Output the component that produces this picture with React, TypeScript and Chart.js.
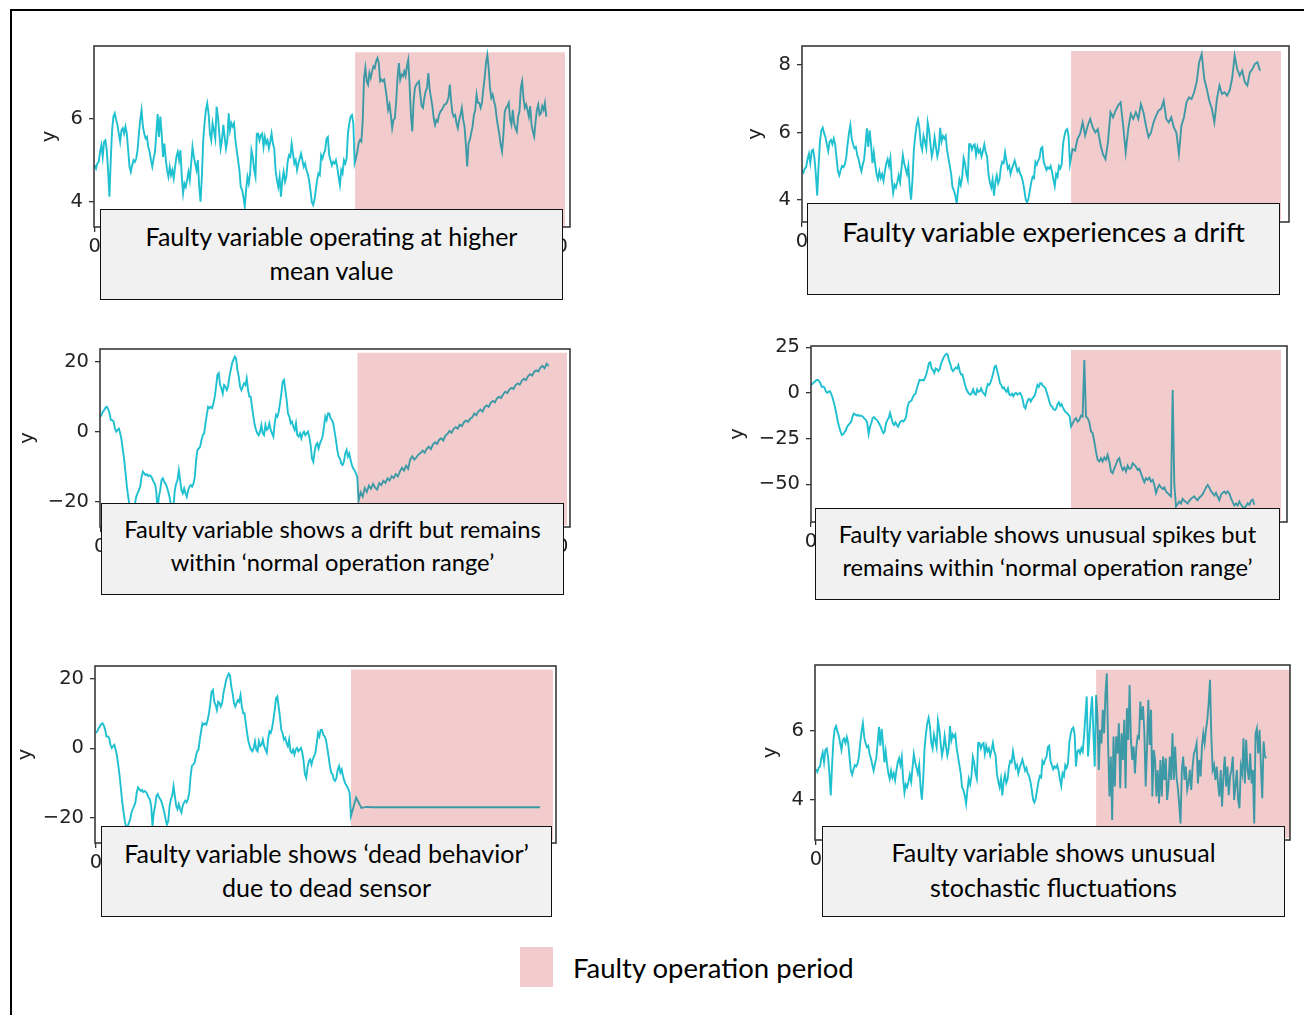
import React, { useEffect, useRef } from "react";
import { Chart, registerables } from "chart.js";

Chart.register(...registerables);

// ---------------- data ----------------
// shared normal-operation signal of panels "higher mean", "drift", "stochastic"
const baseNormal = [
  4.89, 4.81, 4.93, 4.97, 5.21, 5.37, 5.09, 5.45, 5.49, 5.25,
  4.77, 4.13, 5.01, 5.73, 6.06, 6.14, 5.98, 5.86, 5.65, 5.45,
  5.73, 5.78, 5.65, 5.82, 5.65, 5.25, 4.85, 4.73, 4.89, 5.01,
  4.97, 5.05, 5.25, 5.65, 5.98, 6.22, 5.82, 5.65, 5.53, 5.57,
  5.33, 5.21, 5.01, 4.85, 5.05, 5.21, 5.65, 6.12, 5.57, 6.06,
  5.65, 5.09, 5.41, 5.05, 4.77, 4.61, 4.85, 4.65, 4.77, 4.57,
  4.85, 5.09, 5.21, 5.01, 5.25, 4.61, 4.21, 4.45, 4.37, 4.53,
  4.73, 4.53, 4.93, 5.33, 5.09, 4.93, 4.77, 5.01, 4.37, 4.01,
  4.61, 5.49, 5.90, 6.22, 6.38, 6.14, 5.65, 5.49, 5.90, 5.73,
  5.53, 6.30, 6.06, 5.65, 5.29, 5.49, 5.86, 5.57, 5.29, 5.49,
  6.14, 5.73, 5.90, 5.82, 5.90, 5.49, 5.25, 5.01, 4.77, 4.37,
  4.29, 4.13, 3.89, 4.29, 4.61, 4.45, 4.69, 5.25, 5.09, 4.77,
  4.61, 5.65, 5.65, 5.49, 5.61, 5.65, 5.33, 5.57, 5.41, 5.49,
  5.29, 5.45, 5.65, 5.41, 5.29, 4.77, 4.53, 4.37, 4.61, 4.13,
  4.53, 4.73, 4.49, 4.61, 4.97, 5.13, 5.09, 5.41, 5.17, 4.93,
  5.01, 4.77, 4.93, 5.05, 5.17, 5.01, 4.85, 4.93, 4.77, 4.69,
  4.53, 4.29, 4.01, 3.93, 4.05, 4.29, 4.53, 4.69, 4.65, 5.13,
  5.05, 5.17, 5.25, 5.53, 5.57, 5.13, 5.01, 4.89, 4.97, 4.93,
  5.01, 4.85, 4.61, 4.41, 4.77, 4.69, 5.01, 4.93, 5.05, 5.65,
  5.90, 6.06, 6.10, 5.90,
];

const higherMeanFault = [
  4.94, 5.06, 5.22, 5.42, 5.50, 5.46, 5.94, 6.99, 7.24, 6.91,
  6.83, 7.11, 6.99, 7.15, 7.27, 7.23, 7.39, 7.47, 7.35, 6.91,
  6.95, 6.91, 6.95, 6.75, 6.51, 6.22, 6.35, 6.10, 5.78, 5.98,
  6.02, 6.43, 6.99, 7.35, 6.95, 7.07, 7.03, 7.15, 7.03, 7.27,
  7.43, 6.83, 6.10, 5.70, 6.43, 6.75, 6.83, 6.87, 6.91, 6.59,
  6.31, 6.27, 6.51, 6.67, 6.75, 7.11, 6.71, 6.51, 6.31, 6.02,
  5.86, 5.98, 5.94, 6.10, 6.18, 6.22, 6.28, 6.35, 6.36, 6.41,
  6.51, 6.83, 6.43, 6.14, 6.06, 6.10, 5.90, 5.78, 5.98, 6.10,
  6.27, 5.98, 5.82, 5.38, 4.86, 5.42, 5.50, 5.66, 5.82, 6.10,
  6.22, 6.59, 6.39, 6.39, 6.27, 6.39, 6.71, 6.99, 7.35, 7.55,
  7.23, 6.75, 6.51, 6.59, 6.43, 6.31, 6.02, 5.82, 5.62, 5.38,
  5.22, 5.62, 6.18, 6.27, 6.31, 6.39, 5.98, 5.86, 6.22, 5.90,
  5.78, 5.70, 6.06, 6.18, 6.75, 6.91, 6.51, 6.27, 6.35, 6.22,
  6.06, 6.31, 5.86, 5.70, 5.58, 5.94, 6.22, 6.35, 6.10, 6.14,
  6.31, 6.22, 6.39, 6.06,
];

const driftFault = [
  5.07, 5.51, 5.46, 5.81, 5.96, 6.30, 5.91, 6.20, 6.40, 6.15,
  6.00, 6.10, 5.66, 5.36, 5.21, 5.71, 6.60, 6.45, 6.65, 6.80,
  6.89, 6.20, 5.41, 6.10, 6.55, 6.40, 6.60, 6.40, 6.84, 6.60,
  6.20, 5.86, 6.00, 6.30, 6.50, 6.65, 6.70, 6.94, 6.40, 6.30,
  6.45, 6.15, 6.00, 5.36, 6.20, 6.45, 6.89, 7.04, 6.99, 7.19,
  7.49, 8.08, 8.33, 7.59, 7.29, 6.94, 6.70, 6.30, 6.99, 7.39,
  7.14, 7.19, 7.09, 7.24, 7.59, 8.28, 7.88, 7.68, 7.83, 7.49,
  7.39, 7.78, 7.88, 8.03, 8.08, 7.83,
];

const stochasticFault = [
  4.97, 5.40, 5.45, 5.35, 5.50, 5.40, 5.84, 6.42, 7.00, 5.26,
  5.84, 6.51, 7.00, 5.93, 4.97, 7.04, 6.42, 4.87, 6.03, 5.64,
  6.61, 5.93, 7.09, 7.67, 5.55, 4.10, 5.26, 3.42, 5.84, 4.39,
  5.84, 5.35, 6.22, 4.34, 5.93, 5.16, 6.32, 4.34, 6.66, 5.74,
  7.33, 5.74, 5.16, 5.55, 4.77, 5.50, 5.84, 5.79, 6.85, 6.32,
  6.71, 5.98, 4.39, 5.50, 6.90, 5.59, 6.61, 4.10, 5.45, 5.16,
  4.10, 4.87, 3.90, 5.16, 4.10, 5.26, 4.58, 5.21, 4.00, 4.39,
  5.26, 4.58, 5.93, 4.58, 5.55, 4.68, 4.34, 3.90, 3.32, 4.87,
  5.26, 4.58, 4.97, 4.29, 4.48, 4.87, 4.29, 4.97, 5.35, 5.45,
  5.64, 4.48, 5.16, 4.68, 5.55, 5.93, 5.64, 6.03, 6.32, 6.80,
  7.48, 5.84, 4.87, 5.01, 4.58, 4.97, 4.48, 4.10, 4.87, 3.81,
  4.68, 5.26, 4.39, 4.97, 4.14, 4.68, 4.87, 5.26, 4.00, 4.39,
  4.87, 4.00, 3.76, 4.97, 4.77, 5.79, 4.48, 5.74, 4.87, 4.58,
  5.35, 4.48, 4.87, 3.32, 5.93, 6.08, 5.35, 6.03, 4.97, 4.05,
  5.69, 5.26, 5.21,
];

// shared normal-operation random walk of panels "bounded drift", "spikes", "dead sensor"
const walkNormal = [
  4.4, 4.9, 5.8, 6.3, 7.0, 7.2, 6.5, 5.3, 3.4, 3.4,
  3.0, 1.0, 0.1, 0.6, 1.0, -0.4, -2.3, -5.1, -8.0, -11.8,
  -15.6, -18.5, -21.0, -23.0, -22.6, -21.5, -20.5, -18.5, -17.5, -16.6,
  -15.6, -12.8, -11.3, -11.8, -12.3, -12.0, -12.6, -12.3, -12.6, -13.2,
  -14.2, -14.7, -16.6, -22.5, -18.5, -16.6, -13.7, -13.2, -14.2, -14.7,
  -15.6, -17.0, -18.5, -20.5, -22.0, -21.0, -16.6, -14.7, -13.7, -10.9,
  -13.7, -16.6, -17.5, -16.1, -17.5, -18.5, -16.6, -15.6, -15.1, -15.6,
  -14.7, -12.8, -8.0, -5.1, -4.7, -4.2, -2.3, -0.9, -0.4, 2.5,
  4.9, 7.2, 6.8, 7.2, 6.8, 8.2, 10.1, 13.0, 16.3, 16.8,
  13.4, 12.5, 11.0, 13.4, 13.0, 12.0, 13.0, 15.8, 17.7, 19.6,
  20.6, 21.5, 21.0, 17.7, 15.8, 13.0, 12.0, 13.0, 13.9, 13.4,
  15.3, 12.0, 10.1, 10.1, 7.2, 4.4, 2.0, 0.6, -0.4, -0.9,
  0.1, 2.0, -0.4, -0.9, 2.0, 0.6, 1.0, 2.5, 0.6, -0.4,
  -1.3, 2.5, 4.9, 4.4, 5.8, 8.2, 11.0, 14.4, 14.9, 12.0,
  9.1, 5.3, 4.4, 2.5, 3.0, 1.5, 0.6, 2.5, -0.9, -1.3,
  -0.4, -1.8, -0.4, 0.1, -0.9, -0.4, 0.1, -1.3, -3.7, -7.5,
  -8.5, -5.6, -3.7, -3.2, -4.7, -3.2, -2.3, -1.3, 1.5, 4.4,
  3.4, 5.3, 5.3, 3.9, 3.4, 2.5, 0.1, -2.3, -5.1, -7.0,
  -7.5, -9.0, -9.4, -8.5, -6.1, -5.1, -7.0, -6.1, -8.0, -9.4,
  -10.4, -10.9, -11.8, -12.8,
];

const boundedDriftFault = [
  -19.6, -17.2, -18.4, -16.0, -17.1, -15.3, -16.2, -14.8, -15.9, -16.4,
  -14.6, -15.1, -13.9, -14.5, -13.2, -13.8, -12.6, -13.1, -12.0, -12.7,
  -11.3, -10.2, -11.0, -9.6, -10.5, -7.8, -6.9, -7.9, -7.2, -6.4,
  -6.0, -5.3, -5.9, -4.8, -4.2, -4.9, -3.5, -2.9, -3.4, -2.2,
  -1.8, -2.4, -1.0, -0.6, 0.3, -0.2, 0.9, 1.4, 1.0, 2.1,
  1.7, 2.8, 3.3, 2.9, 3.8, 4.2, 5.3, 4.8, 5.9, 6.4,
  5.8, 7.1, 7.6, 7.2, 8.4, 8.9, 8.5, 9.6, 10.1, 9.7,
  10.8, 11.5, 11.1, 12.2, 12.6, 12.3, 13.4, 13.9, 13.5, 14.6,
  15.2, 14.8, 15.9, 16.5, 16.1, 17.2, 17.6, 17.3, 18.4, 18.9,
  18.2, 19.5, 18.8,
];

const spikeFault = [
  -18.4, -16.6, -14.8, -13.8, -15.7, -14.8, -12.4, -12.9, 18.0, -12.9,
  -13.8, -16.0, -21.1, -22.0, -26.6, -32.1, -36.6, -37.5, -35.7, -37.5,
  -35.3, -36.6, -33.9, -37.5, -43.0, -43.9, -41.2, -39.0, -36.6, -35.7,
  -39.7, -42.1, -40.8, -43.0, -39.7, -41.5, -41.2, -38.4, -39.3, -40.4,
  -42.1, -41.5, -43.9, -46.6, -48.8, -46.6, -47.5, -46.3, -48.5, -47.5,
  -50.3, -54.8, -52.1, -50.3, -51.7, -52.5, -51.7, -53.9, -54.8, -55.7,
  -56.6, 1.6, -50.3, -62.1, -60.8, -59.4, -60.5, -57.9, -59.0, -59.7,
  -60.5, -59.0, -57.9, -57.2, -56.6, -57.9, -58.7, -57.2, -56.5, -55.4,
  -53.6, -51.7, -50.3, -51.7, -53.9, -54.8, -56.1, -54.6, -56.8, -58.7,
  -55.7, -54.6, -53.9, -55.0, -53.9, -55.0, -57.6, -59.7, -61.6, -60.5,
  -61.6, -59.4, -61.2, -62.3, -63.0, -61.9, -60.3, -61.2, -59.0, -58.3,
  -61.2,
];

const deadFault = [
  -19.6, -14.2, -17.2, -16.9, -17.0, -17.0, -17.0, -17.0, -17.0, -17.0,
  -17.0, -17.0, -17.0, -17.0, -17.0, -17.0, -17.0, -17.0, -17.0, -17.0,
  -17.0, -17.0, -17.0, -17.0, -17.0, -17.0, -17.0, -17.0, -17.0, -17.0,
  -17.0, -17.0, -17.0, -17.0, -17.0, -17.0, -17.0,
];

// faulty operation periods (time span, value band)
const faultSpanMean = [194.3, 351];
const faultBandMean = [3.43, 7.61];
const faultSpanDrift = [194.8, 346.8];
const faultBandDrift = [3.41, 8.41];
const faultSpanBounded = [193, 350.6];
const faultBandBounded = [-26.6, 22.6];
const faultSpanSpike = [194, 350.7];
const faultBandSpike = [-69.5, 23.5];
const faultSpanDead = [194.1, 347.8];
const faultBandDead = [-26.5, 22.7];
const faultSpanStoch = [209, 353.7];
const faultBandStoch = [2.9, 7.77];

// tick values & labels
const yTicksSmall = [4, 6];
const yTickLabelsSmall = ["4", "6"];
const yTicksDrift = [4, 6, 8];
const yTickLabelsDrift = ["4", "6", "8"];
const yTicksWalk = [-20, 0, 20];
const yTickLabelsWalk = ["\u221220", "0", "20"];
const yTicksSpike = [-50, -25, 0, 25];
const yTickLabelsSpike = ["\u221250", "\u221225", "0", "25"];
const xTicksMean = [0, 334.6];
const xTicksBounded = [0, 333];
const xTickLabelsEnds = ["0", "1000"];
const xTicksStart = [0];
const xTickLabelsStart = ["0"];

const textMean = ["Faulty variable operating at higher", "mean value"];
const textDrift = ["Faulty variable experiences a drift"];
const textBounded = ["Faulty variable shows a drift but remains", "within \u2018normal operation range\u2019"];
const textSpike = ["Faulty variable shows unusual spikes but", "remains within \u2018normal operation range\u2019"];
const textDead = ["Faulty variable shows \u2018dead behavior\u2019", "due to dead sensor"];
const textStoch = ["Faulty variable shows unusual", "stochastic fluctuations"];
const legendLabel = "Faulty operation period";
const axisLabel = "y";

// ---------------- layout / style ----------------
const LINE_COLOR = "#1fc0d0";
const FAULT_FILL = "rgba(192,0,0,0.2)";
const TICK_FONT = { family: "DejaVu Sans", size: 19.5 };
const TEXT_COLOR = "#222";
const PAD_TOP = 22;
const PAD_RIGHT = 6;
const AXIS_H = 34;
const BOX_FONT = "Lato, 'Open Sans', sans-serif";

type Panel = {
  normal: number[];
  fault: number[];
  faultStep: number;
  span: number[];
  band: number[];
  xRange: [number, number];
  yRange: [number, number];
  xTicks: number[];
  xTickLabels: string[];
  yTicks: number[];
  yTickLabels: string[];
  frame: { l: number; t: number; r: number; b: number };
  titleX: number;
  box: { l: number; t: number; r: number; b: number };
  text: string[];
  firstLineY: number;
  lineH: number;
  fontSize: number;
};

const panels: Panel[] = [
  {
    normal: baseNormal, fault: higherMeanFault, faultStep: 1,
    span: faultSpanMean, band: faultBandMean,
    xRange: [-0.5, 354.7], yRange: [3.4, 7.76],
    xTicks: xTicksMean, xTickLabels: xTickLabelsEnds,
    yTicks: yTicksSmall, yTickLabels: yTickLabelsSmall,
    frame: { l: 94, t: 46, r: 570, b: 227 }, titleX: 50,
    box: { l: 100, t: 209, r: 563, b: 300 }, text: textMean, firstLineY: 236, lineH: 34, fontSize: 25,
  },
  {
    normal: baseNormal, fault: driftFault, faultStep: 137.6 / 75,
    span: faultSpanDrift, band: faultBandDrift,
    xRange: [0, 352.6], yRange: [3.35, 8.56],
    xTicks: xTicksStart, xTickLabels: xTickLabelsStart,
    yTicks: yTicksDrift, yTickLabels: yTickLabelsDrift,
    frame: { l: 802, t: 46, r: 1289, b: 222 }, titleX: 756,
    box: { l: 807, t: 203, r: 1280, b: 295 }, text: textDrift, firstLineY: 232, lineH: 34, fontSize: 27.5,
  },
  {
    normal: walkNormal, fault: boundedDriftFault, faultStep: 1.552,
    span: faultSpanBounded, band: faultBandBounded,
    xRange: [-0.2, 352.8], yRange: [-27.1, 23.7],
    xTicks: xTicksBounded, xTickLabels: xTickLabelsEnds,
    yTicks: yTicksWalk, yTickLabels: yTickLabelsWalk,
    frame: { l: 100, t: 349, r: 570, b: 527 }, titleX: 28,
    box: { l: 101, t: 503, r: 564, b: 595 }, text: textBounded, firstLineY: 530, lineH: 33, fontSize: 23.7,
  },
  {
    normal: walkNormal, fault: spikeFault, faultStep: 1.244,
    span: faultSpanSpike, band: faultBandSpike,
    xRange: [0, 355.2], yRange: [-70.6, 25.7],
    xTicks: xTicksStart, xTickLabels: xTickLabelsStart,
    yTicks: yTicksSpike, yTickLabels: yTickLabelsSpike,
    frame: { l: 811, t: 346, r: 1287, b: 522 }, titleX: 738,
    box: { l: 815, t: 508, r: 1280, b: 600 }, text: textSpike, firstLineY: 535, lineH: 32.5, fontSize: 23.7,
  },
  {
    normal: walkNormal, fault: deadFault, faultStep: 4,
    span: faultSpanDead, band: faultBandDead,
    xRange: [-0.76, 350.1], yRange: [-27.3, 23.7],
    xTicks: xTicksStart, xTickLabels: xTickLabelsStart,
    yTicks: yTicksWalk, yTickLabels: yTickLabelsWalk,
    frame: { l: 95, t: 666, r: 556, b: 843 }, titleX: 25.5,
    box: { l: 101, t: 826, r: 552, b: 917 }, text: textDead, firstLineY: 853, lineH: 34, fontSize: 25,
  },
  {
    normal: baseNormal, fault: stochasticFault, faultStep: 1,
    span: faultSpanStoch, band: faultBandStoch,
    xRange: [-0.75, 353.7], yRange: [2.84, 7.91],
    xTicks: xTicksStart, xTickLabels: xTickLabelsStart,
    yTicks: yTicksSmall, yTickLabels: yTickLabelsSmall,
    frame: { l: 815, t: 665, r: 1290, b: 840 }, titleX: 771,
    box: { l: 822, t: 826, r: 1285, b: 917 }, text: textStoch, firstLineY: 853, lineH: 35, fontSize: 25,
  },
];

const frameBoxPlugin = {
  id: "frameBox",
  afterDatasetsDraw(chart: any) {
    const { ctx, chartArea: a } = chart;
    ctx.save();
    ctx.strokeStyle = "#3a3a3a";
    ctx.lineWidth = 1.6;
    ctx.strokeRect(a.left, a.top, a.right - a.left, a.bottom - a.top);
    ctx.restore();
  },
};

function PanelChart({ p }: { p: Panel }) {
  const ref = useRef<HTMLCanvasElement | null>(null);
  const halfTitle = (TICK_FONT.size * 1.2) / 2;
  const canvasLeft = Math.round(p.titleX - halfTitle);
  const axisW = p.frame.l - canvasLeft;
  const canvasTop = p.frame.t - PAD_TOP;
  const width = p.frame.r + PAD_RIGHT - canvasLeft;
  const height = p.frame.b + AXIS_H - canvasTop;

  useEffect(() => {
    if (!ref.current) return;
    const points = [
      ...p.normal.map((y, i) => ({ x: i, y })),
      ...p.fault.map((y, k) => ({ x: p.normal.length + k * p.faultStep, y })),
    ];
    const grid = {
      display: true,
      drawOnChartArea: false,
      drawTicks: true,
      tickLength: 5,
      color: "#333",
      lineWidth: 1.3,
    };
    const chart = new Chart(ref.current, {
      type: "line",
      data: {
        datasets: [
          {
            data: [
              { x: p.span[0], y: p.band[1] },
              { x: p.span[1], y: p.band[1] },
            ],
            fill: { value: p.band[0] },
            backgroundColor: FAULT_FILL,
            borderWidth: 0,
            borderColor: "rgba(0,0,0,0)",
            pointRadius: 0,
            order: 0,
          },
          {
            data: points,
            borderColor: LINE_COLOR,
            borderWidth: 1.9,
            pointRadius: 0,
            fill: false,
            tension: 0,
            order: 1,
          },
        ],
      },
      options: {
        responsive: false,
        animation: false,
        devicePixelRatio: 1,
        events: [],
        layout: { padding: { top: PAD_TOP, right: PAD_RIGHT, left: 0, bottom: 0 } },
        plugins: { legend: { display: false }, tooltip: { enabled: false } },
        scales: {
          x: {
            type: "linear",
            min: p.xRange[0],
            max: p.xRange[1],
            afterBuildTicks: (s: any) => {
              s.ticks = p.xTicks.map((v) => ({ value: v }));
            },
            afterFit: (s: any) => {
              s.height = AXIS_H;
            },
            ticks: {
              callback: (_v: any, i: number) => p.xTickLabels[i],
              font: TICK_FONT,
              color: TEXT_COLOR,
              padding: 3,
              maxRotation: 0,
              autoSkip: false,
            },
            grid,
            border: { display: false },
          },
          y: {
            type: "linear",
            min: p.yRange[0],
            max: p.yRange[1],
            afterBuildTicks: (s: any) => {
              s.ticks = p.yTicks.map((v) => ({ value: v }));
            },
            afterFit: (s: any) => {
              s.width = axisW;
            },
            ticks: {
              callback: (_v: any, i: number) => p.yTickLabels[i],
              font: TICK_FONT,
              color: TEXT_COLOR,
              padding: 6,
              autoSkip: false,
            },
            grid,
            border: { display: false },
            title: { display: true, text: axisLabel, font: TICK_FONT, color: TEXT_COLOR, padding: 0 },
          },
        },
      },
      plugins: [frameBoxPlugin],
    } as any);
    return () => chart.destroy();
  }, []);

  const b = p.box;
  const padTop = p.firstLineY - b.t - p.lineH / 2 - 1.5;
  return (
    <>
      <canvas
        ref={ref}
        width={width}
        height={height}
        style={{ position: "absolute", left: canvasLeft, top: canvasTop, width, height }}
      />
      <div
        style={{
          position: "absolute",
          left: b.l,
          top: b.t,
          width: b.r - b.l,
          height: b.b - b.t,
          boxSizing: "border-box",
          border: "1.5px solid #111",
          background: "#f1f1f1",
          textAlign: "center",
          fontFamily: BOX_FONT,
          fontSize: p.fontSize,
          lineHeight: p.lineH + "px",
          color: "#000",
          paddingTop: padTop,
          whiteSpace: "nowrap",
        }}
      >
        {p.text.map((t, i) => (
          <div key={i}>{t}</div>
        ))}
      </div>
    </>
  );
}

export default function App() {
  return (
    <div
      style={{
        position: "fixed",
        left: 0,
        top: 0,
        width: "100vw",
        height: "100vh",
        overflow: "hidden",
        background: "#fff",
      }}
    >
      <div
        style={{
          position: "absolute",
          left: 10,
          top: 9,
          width: 1400,
          height: 1100,
          border: "2px solid #000",
        }}
      />
      {panels.map((p, i) => (
        <PanelChart key={i} p={p} />
      ))}
      <div
        style={{
          position: "absolute",
          left: 520,
          top: 947,
          width: 33,
          height: 40,
          background: "#f2cccc",
        }}
      />
      <div
        style={{
          position: "absolute",
          left: 573,
          top: 949,
          fontFamily: BOX_FONT,
          fontSize: 27.5,
          lineHeight: "38px",
          color: "#000",
          whiteSpace: "nowrap",
        }}
      >
        {legendLabel}
      </div>
    </div>
  );
}
